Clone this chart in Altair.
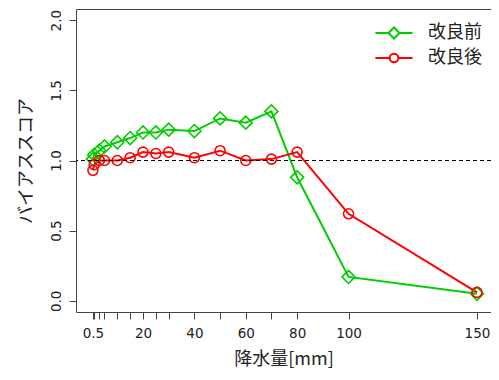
import altair as alt
import pandas as pd

# ---- data ----
rain = [0.5, 1, 3, 5, 10, 15, 20, 25, 30, 40, 50, 60, 70, 80, 100, 150]
before = [1.01, 1.04, 1.07, 1.10, 1.13, 1.16, 1.20, 1.20, 1.22, 1.21, 1.30, 1.27, 1.35, 0.88, 0.17, 0.05]
after = [0.93, 0.97, 1.00, 1.00, 1.00, 1.02, 1.06, 1.05, 1.06, 1.02, 1.07, 1.00, 1.01, 1.06, 0.62, 0.06]
series_names = ["改良前", "改良後"]
series_colors = ["#00CD00", "#FF0000"]
x_labels = [0.5, 20, 40, 60, 80, 100, 150]
y_ticks = [0.0, 0.5, 1.0, 1.5, 2.0]
ref_value = [1.0]

rows = []
for xv, b, a in zip(rain, before, after):
    rows.append({"rain": xv, "score": b, "series": series_names[0]})
    rows.append({"rain": xv, "score": a, "series": series_names[1]})
df = pd.DataFrame(rows)

xscale = alt.Scale(domain=[-6.08, 155.45], nice=False, zero=False)
yscale = alt.Scale(domain=[-0.08, 2.08], nice=False, zero=False)
cscale = alt.Scale(domain=series_names, range=series_colors)

path_before = "M-3.1,0L-0.92,0M0.92,0L3.1,0M-0.92,0L0,-0.92L0.92,0L0,0.92Z"
path_after = ("M-3.1,0L-0.72,0M0.72,0L3.1,0"
              "M-0.72,0A0.72,0.72,0,1,0,0.72,0A0.72,0.72,0,1,0,-0.72,0Z")
sscale = alt.Scale(domain=series_names, range=[path_before, path_after])

# axis with every tick, no labels
xaxis_ticks = alt.Axis(
    values=rain, labels=False, grid=False, domain=False, orient="bottom",
    tickSize=7, title=None,
)
# axis with the labels only
xaxis_labels = alt.Axis(
    values=x_labels, format=".1~f", grid=False, domain=False, orient="bottom",
    ticks=False, labelOverlap=False, labelPadding=14, titlePadding=11,
    title="降水量[mm]",
)
yaxis = alt.Axis(
    values=y_ticks, format=".1f", grid=False, domain=False,
    labelAngle=270, labelAlign="center", labelBaseline="bottom",
    tickSize=7, labelPadding=6, titlePadding=14,
    title="バイアススコア",
)

def make_legend():
    return alt.Legend(
        title=None, orient="none", legendX=309, legendY=15,
        symbolSize=144, symbolStrokeWidth=2, symbolFillColor="transparent",
        symbolOpacity=1,
        labelFontSize=18, labelFont="Noto Sans CJK JP", labelOffset=25,
        labelColor="#222", rowPadding=6, padding=0,
    )

base = alt.Chart(df)

legend_layer = base.transform_filter("false").mark_point(filled=False, opacity=1).encode(
    x=alt.X("rain:Q", scale=xscale, axis=None),
    y=alt.Y("score:Q", scale=yscale, axis=None),
    color=alt.Color("series:N", scale=cscale, legend=make_legend()),
    shape=alt.Shape("series:N", scale=sscale, legend=make_legend()),
)

lines = base.mark_line(strokeWidth=2).encode(
    x=alt.X("rain:Q", scale=xscale, axis=xaxis_ticks),
    y=alt.Y("score:Q", scale=yscale, axis=yaxis),
    color=alt.Color("series:N", scale=cscale, legend=make_legend()),
    detail="series:N",
    order="rain:Q",
)

pts_before = base.transform_filter(alt.datum.series == series_names[0]).mark_point(
    shape="diamond", size=170, strokeWidth=1.6, filled=False, opacity=1
).encode(
    x=alt.X("rain:Q", scale=xscale, axis=xaxis_labels),
    y=alt.Y("score:Q", scale=yscale, axis=None),
    color=alt.Color("series:N", scale=cscale, legend=make_legend()),
)
pts_after = base.transform_filter(alt.datum.series == series_names[1]).mark_point(
    shape="circle", size=100, strokeWidth=1.6, filled=False, opacity=1
).encode(
    x=alt.X("rain:Q", scale=xscale, axis=None),
    y=alt.Y("score:Q", scale=yscale, axis=None),
    color=alt.Color("series:N", scale=cscale, legend=make_legend()),
)

rule = alt.Chart(pd.DataFrame({"v": ref_value})).mark_rule(
    color="black", strokeDash=[4, 3], strokeWidth=1
).encode(y=alt.Y("v:Q", scale=yscale, axis=None))

chart = alt.layer(legend_layer, lines, pts_before, pts_after, rule).resolve_axis(
    x="independent", y="independent"
).properties(
    width=415, height=303,
    autosize=alt.AutoSizeParams(type="none"),
    padding={"left": 68, "top": 1, "right": 0, "bottom": 60},
).configure_view(
    stroke="#444", strokeWidth=1
).configure_axis(
    labelFont="DejaVu Sans", labelFontSize=13.5, labelColor="#222",
    titleFont="Noto Sans CJK JP", titleFontSize=18, titleFontWeight="normal",
    titleColor="#222", tickColor="#444", tickWidth=1,
)

chart.save("out.html", embed_options={"renderer": "svg", "actions": False})
